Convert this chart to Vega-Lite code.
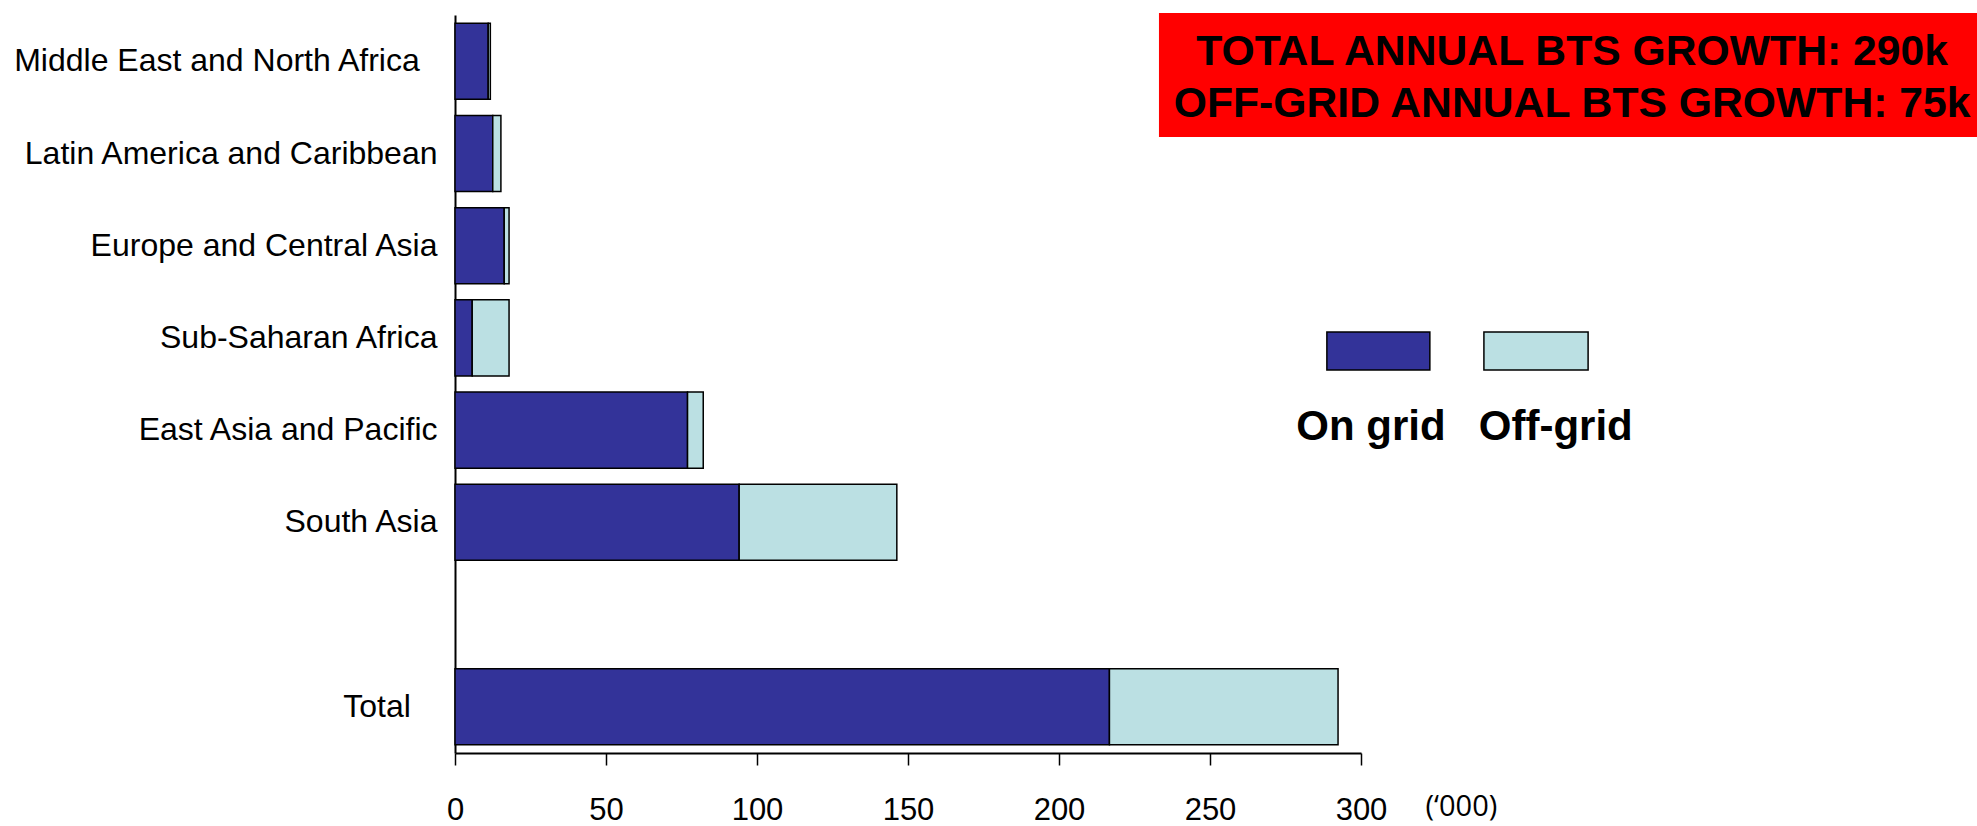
{
  "$schema": "https://vega.github.io/schema/vega-lite/v6.json",
  "width": 906,
  "height": 738,
  "autosize": {"type": "none"},
  "padding": {"left": 455, "top": 15, "right": 616, "bottom": 73},
  "background": "white",
  "config": {"view": {"stroke": null}, "font": "Liberation Sans"},
  "resolve": {"scale": {"x": "independent", "y": "independent"}},
  "layer": [
    {
      "data": {"values": [
        {"region": "Middle East and North Africa", "type": "On grid", "value": 11.0},
        {"region": "Middle East and North Africa", "type": "Off-grid", "value": 0.7},
        {"region": "Latin America and Caribbean", "type": "On grid", "value": 12.5},
        {"region": "Latin America and Caribbean", "type": "Off-grid", "value": 2.7},
        {"region": "Europe and Central Asia", "type": "On grid", "value": 16.3},
        {"region": "Europe and Central Asia", "type": "Off-grid", "value": 1.6},
        {"region": "Sub-Saharan Africa", "type": "On grid", "value": 5.7},
        {"region": "Sub-Saharan Africa", "type": "Off-grid", "value": 12.2},
        {"region": "East Asia and Pacific", "type": "On grid", "value": 77.0},
        {"region": "East Asia and Pacific", "type": "Off-grid", "value": 5.2},
        {"region": "South Asia", "type": "On grid", "value": 94.1},
        {"region": "South Asia", "type": "Off-grid", "value": 52.2},
        {"region": "Total", "type": "On grid", "value": 216.7},
        {"region": "Total", "type": "Off-grid", "value": 75.7}
      ]},
      "mark": {"type": "bar", "stroke": "black", "strokeWidth": 1.5},
      "encoding": {
        "y": {
          "field": "region", "type": "nominal",
          "scale": {
            "domain": ["Middle East and North Africa", "Latin America and Caribbean", "Europe and Central Asia", "Sub-Saharan Africa", "East Asia and Pacific", "South Asia", " ", "Total"],
            "paddingInner": 0.175, "paddingOuter": 0.09
          },
          "axis": {
            "title": null, "ticks": false, "grid": false,
            "labelFont": "Liberation Sans", "labelFontSize": 32, "labelColor": "black",
            "labelPadding": 18, "labelLimit": 0,
            "labelExpr": "datum.value == 'Middle East and North Africa' ? datum.value + '\u00a0\u00a0\u200b' : datum.value == 'Total' ? 'Total\u00a0\u00a0\u00a0\u200b' : datum.value",
            "domainColor": "black", "domainWidth": 2
          }
        },
        "x": {
          "field": "value", "type": "quantitative", "stack": "zero",
          "scale": {"domain": [0, 300], "nice": false},
          "axis": {
            "title": "(‘000)", "titleX": 970, "titleY": 62, "titleAlign": "left", "titleBaseline": "alphabetic",
            "titleFont": "Open Sans", "titleFontSize": 29, "titleFontWeight": "normal", "titleColor": "black",
            "values": [0, 50, 100, 150, 200, 250, 300], "format": "d",
            "labelFont": "Liberation Sans", "labelFontSize": 31, "labelColor": "black", "labelPadding": 30,
            "labelFlush": false, "labelOverlap": false,
            "tickSize": 12, "tickColor": "black", "tickWidth": 1.5,
            "domainColor": "black", "domainWidth": 2, "grid": false
          }
        },
        "color": {
          "field": "type", "type": "nominal",
          "scale": {"domain": ["On grid", "Off-grid"], "range": ["#333399", "#BBE0E3"]},
          "legend": null
        },
        "order": {"field": "type", "sort": "descending"}
      }
    },
    {
      "data": {"values": [{}]},
      "layer": [
        {
          "mark": {"type": "rect", "fill": "#FF0000"},
          "encoding": {
            "x": {"datum": 233.1, "type": "quantitative", "scale": {"domain": [0, 300], "nice": false, "zero": false}, "axis": null},
            "x2": {"datum": 504},
            "y": {"datum": 100.27, "type": "quantitative", "scale": {"domain": [0, 100], "nice": false, "zero": false}, "axis": null},
            "y2": {"datum": 83.47}
          }
        },
        {
          "mark": {"type": "text", "text": ["TOTAL ANNUAL BTS GROWTH: 290k", "OFF-GRID ANNUAL BTS GROWTH: 75k"], "font": "Liberation Sans", "fontSize": 42.7, "fontWeight": "bold", "color": "black", "align": "center", "baseline": "alphabetic", "lineHeight": 52},
          "encoding": {
            "x": {"datum": 369.9, "type": "quantitative"},
            "y": {"datum": 93.22, "type": "quantitative"}
          }
        },
        {
          "mark": {"type": "rect", "stroke": "black", "strokeWidth": 1.5},
          "encoding": {
            "x": {"datum": 288.7, "type": "quantitative"},
            "x2": {"datum": 322.8},
            "y": {"datum": 57.05, "type": "quantitative"},
            "y2": {"datum": 51.9},
            "color": {"datum": "On grid", "type": "nominal", "legend": null}
          }
        },
        {
          "mark": {"type": "rect", "stroke": "black", "strokeWidth": 1.5},
          "encoding": {
            "x": {"datum": 340.7, "type": "quantitative"},
            "x2": {"datum": 375.2},
            "y": {"datum": 57.05, "type": "quantitative"},
            "y2": {"datum": 51.9},
            "color": {"datum": "Off-grid", "type": "nominal", "legend": null}
          }
        },
        {
          "mark": {"type": "text", "text": "On grid", "font": "Liberation Sans", "fontSize": 42, "fontWeight": "bold", "color": "black", "align": "center", "baseline": "alphabetic"},
          "encoding": {
            "x": {"datum": 303.3, "type": "quantitative"},
            "y": {"datum": 42.41, "type": "quantitative"}
          }
        },
        {
          "mark": {"type": "text", "text": "Off-grid", "font": "Liberation Sans", "fontSize": 42, "fontWeight": "bold", "color": "black", "align": "center", "baseline": "alphabetic"},
          "encoding": {
            "x": {"datum": 364.5, "type": "quantitative"},
            "y": {"datum": 42.41, "type": "quantitative"}
          }
        }
      ]
    }
  ]
}
